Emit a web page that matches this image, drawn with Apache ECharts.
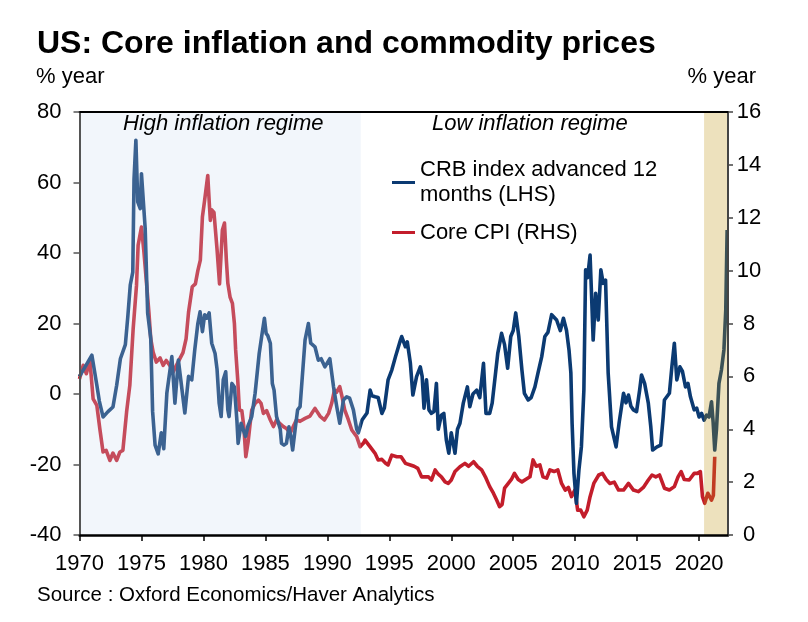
<!DOCTYPE html>
<html>
<head>
<meta charset="utf-8">
<script src="https://cdn.jsdelivr.net/npm/echarts@6/dist/echarts.min.js"></script>
<style>html,body{margin:0;padding:0;background:#fff}#c{width:808px;height:622px}</style>
</head>
<body>
<div id="c"></div>
<script>
// ---- data ----
const crbYears = [1970.0,1970.5,1971.0,1971.4,1971.6,1971.9,1972.3,1972.7,1973.0,1973.3,1973.7,1973.9,1974.1,1974.3,1974.4,1974.55,1974.7,1974.9,1975.0,1975.3,1975.5,1975.75,1975.9,1976.1,1976.35,1976.6,1976.8,1977.05,1977.45,1977.7,1977.98,1978.5,1978.8,1979.06,1979.3,1979.55,1979.73,1979.92,1980.1,1980.27,1980.46,1980.67,1980.94,1981.1,1981.27,1981.43,1981.6,1981.8,1981.97,1982.07,1982.3,1982.5,1982.7,1982.8,1983.04,1983.2,1983.4,1983.6,1983.9,1984.17,1984.3,1984.5,1984.7,1984.92,1985.06,1985.2,1985.4,1985.56,1985.7,1985.9,1986.2,1986.3,1986.5,1986.7,1986.9,1987.05,1987.2,1987.4,1987.6,1987.8,1988.2,1988.47,1988.66,1989.0,1989.27,1989.5,1989.8,1990.2,1990.5,1990.76,1991.0,1991.3,1991.56,1991.8,1992.1,1992.37,1992.5,1992.8,1993.2,1993.45,1993.6,1993.85,1994.1,1994.4,1994.6,1994.9,1995.2,1995.5,1995.9,1996.0,1996.3,1996.45,1996.7,1996.9,1997.2,1997.5,1997.65,1997.8,1998.0,1998.2,1998.4,1998.6,1998.8,1998.95,1999.2,1999.4,1999.6,1999.8,2000.0,2000.3,2000.5,2000.7,2000.97,2001.3,2001.5,2001.75,2002.05,2002.3,2002.6,2002.8,2003.1,2003.3,2003.75,2004.06,2004.3,2004.55,2004.8,2005.0,2005.2,2005.45,2005.7,2005.9,2006.2,2006.45,2006.75,2007.0,2007.3,2007.55,2007.8,2008.1,2008.5,2008.8,2009.05,2009.3,2009.5,2009.65,2009.75,2009.9,2010.1,2010.3,2010.5,2010.7,2010.84,2011.0,2011.2,2011.3,2011.45,2011.65,2011.86,2012.07,2012.26,2012.45,2012.66,2012.93,2013.3,2013.55,2013.9,2014.1,2014.3,2014.5,2014.7,2014.95,2015.2,2015.35,2015.6,2015.9,2016.1,2016.25,2016.6,2016.9,2017.1,2017.2,2017.6,2017.8,2018.0,2018.2,2018.45,2018.65,2018.9,2019.1,2019.3,2019.6,2019.8,2020.0,2020.2,2020.4,2020.6,2020.8,2021.0,2021.13,2021.26,2021.4,2021.6,2021.8,2022.0,2022.15,2022.26];
const crbValues = [5,8,11,2.5,-2,-6.5,-5,-3.7,2.5,10,14,22,31,34.6,61,72,54.5,52.6,62.5,47,23,15.7,-5,-14.5,-17,-11,-15.5,0.3,10.6,-2.6,9.6,-5.4,5,4,12.5,20,23.3,17.7,22.5,21.5,23,14.4,11.5,7,-2.6,-6.4,4,6.3,-4.5,-6.4,3,2,-7.4,-14,-8.3,-10,-12,-9,-6.4,0.2,0,11.5,16.3,21.5,17.2,16.5,14.4,3,1.1,-6.4,-10,-14,-14.5,-14,-9.3,-12,-15.9,-10,-4.5,-3.6,15.3,20,14.4,13.4,9.6,10,7.7,10,2,-3.6,-8.3,-1.7,-0.8,-1.2,-4.5,-10,-11,-7.4,-5.4,1.1,-0.5,-0.8,-1,-5.5,-4,4,6.8,10.6,15.3,16.3,13.4,14.8,8.7,-0.3,4.9,7.7,5,-4,4,-4.5,-5.5,-5,3,-10,-6,-5.5,-13,-16.8,-11,-16.8,-10,-8.3,-2.6,2,-3.6,0,1.1,-1,8.7,-5.5,-5.5,-2.6,11.5,17.2,14,7.3,16.3,18,23,16.3,6.8,0.2,-1.7,-1,2,6,10.6,16.3,17.5,22.5,21,18,21.5,18,12.5,6,-8.3,-22.5,-31,-21.6,-15,1.1,35.2,33,39.4,30,15.3,28.6,21,35.2,31.4,32.3,6,-9.3,-15,-8,0.2,-2.5,-0.3,-3.5,-4.5,-5,1.1,5.4,3,-2.6,-9.3,-15.9,-15,-14.5,-6.5,-1.7,0.2,7.7,14.4,4,7.7,6.5,2,3,-0.8,-4.5,-4,-6.5,-5.5,-7.4,-6,-6.5,-2.2,-8,-15.9,-10,3,6.8,12.5,23.8,46.5];

const cpiYears = [1970.0,1970.3,1970.55,1970.84,1971.1,1971.4,1971.64,1971.9,1972.15,1972.45,1972.7,1973.0,1973.26,1973.5,1973.8,1974.06,1974.33,1974.6,1974.73,1975.0,1975.2,1975.4,1975.6,1975.75,1975.94,1976.2,1976.5,1976.75,1977.0,1977.3,1977.55,1977.8,1978.1,1978.35,1978.6,1978.8,1979.1,1979.35,1979.55,1979.75,1979.92,1980.1,1980.35,1980.48,1980.56,1980.67,1980.85,1981.1,1981.3,1981.42,1981.53,1981.7,1981.85,1981.97,1982.15,1982.34,1982.5,1982.6,1982.77,1982.9,1983.1,1983.26,1983.42,1983.6,1983.77,1983.9,1984.17,1984.44,1984.65,1984.84,1985.1,1985.4,1985.65,1985.9,1986.2,1986.45,1986.7,1987.0,1987.25,1987.5,1987.8,1988.2,1988.6,1989.0,1989.4,1989.76,1990.1,1990.35,1990.57,1990.75,1991.0,1991.2,1991.4,1991.7,1991.97,1992.37,1992.64,1992.9,1993.04,1993.44,1993.85,1994.1,1994.4,1994.7,1994.9,1995.2,1995.6,1995.95,1996.3,1996.7,1997.0,1997.3,1997.6,1997.85,1998.15,1998.4,1998.7,1998.95,1999.2,1999.5,1999.76,2000.0,2000.3,2000.7,2001.1,2001.4,2001.8,2002.1,2002.45,2002.75,2003.1,2003.4,2003.66,2003.9,2004.1,2004.3,2004.6,2004.85,2005.1,2005.4,2005.7,2006.0,2006.35,2006.6,2006.85,2007.15,2007.4,2007.7,2007.96,2008.3,2008.6,2008.9,2009.2,2009.45,2009.7,2009.97,2010.2,2010.45,2010.7,2010.97,2011.2,2011.5,2011.9,2012.2,2012.5,2012.8,2013.15,2013.5,2013.9,2014.3,2014.7,2015.1,2015.5,2015.9,2016.2,2016.5,2016.8,2017.2,2017.6,2018.0,2018.3,2018.55,2018.8,2019.2,2019.6,2019.85,2020.1,2020.27,2020.45,2020.7,2021.0,2021.15,2021.26];
const cpiValues = [5.9,6.42,6.1,6.6,5.15,4.9,4.02,3.14,3.2,2.82,3.1,2.82,3.14,3.2,4.65,5.66,7.8,9.44,10.96,11.65,10.7,9.57,8.43,7.42,6.92,6.54,6.7,6.42,6.6,6.4,6.16,6.4,6.67,6.9,7.42,8.43,9.39,9.5,10.0,10.4,12.04,12.67,13.6,12.5,11.9,12.3,12.2,10.8,9.5,9.5,11.54,11.8,10.4,9.52,9.0,8.76,8.0,7.0,5.86,4.73,4.7,4.1,2.96,3.5,4.22,4.73,4.98,5.1,4.98,4.6,4.7,4.35,4.1,4.35,4.2,4.1,4.03,3.85,4.1,4.35,4.3,4.41,4.5,4.79,4.5,4.35,4.6,4.98,5.48,5.4,5.61,5.2,4.73,4.35,3.97,3.72,3.34,3.47,3.59,3.34,3.09,2.84,2.86,2.71,2.65,3.02,2.96,2.96,2.71,2.65,2.6,2.52,2.2,2.2,2.2,2.08,2.46,2.3,2.2,2.01,1.95,2.08,2.4,2.58,2.71,2.6,2.77,2.6,2.46,2.2,1.83,1.58,1.32,1.07,1.15,1.77,1.95,2.1,2.33,2.1,2.01,2.1,2.2,2.84,2.6,2.65,2.2,2.15,2.46,2.4,2.46,1.95,1.7,1.8,1.45,1.7,0.94,0.94,0.69,0.94,1.45,1.95,2.27,2.33,2.1,1.95,2.0,1.7,1.7,1.95,1.7,1.64,1.8,2.08,2.27,2.2,2.27,1.77,1.7,1.83,2.2,2.4,2.1,2.08,2.33,2.33,2.4,1.45,1.2,1.58,1.32,1.5,2.96];

const xTickLabels = [1970,1975,1980,1985,1990,1995,2000,2005,2010,2015,2020];
const regimeStart = [1970, 2020.4];
const regimeEnd = [1992.7, 2022.33];
const regimeNames = ['High inflation regime', 'Low inflation regime'];
const crbName = 'CRB index advanced 12\nmonths (LHS)';
const cpiName = 'Core CPI (RHS)';

// ---- chart ----
const FONT = '"Liberation Sans", Arial, sans-serif';
const regimeFills = ['rgba(205,219,238,0.25)', 'rgba(190,145,10,0.27)'];
const chart = echarts.init(document.getElementById('c'), null, {renderer: 'canvas'});

chart.setOption({
  backgroundColor: '#ffffff',
  animation: false,
  textStyle: {fontFamily: FONT},
  title: {
    text: 'US: Core inflation and commodity prices',
    left: 37, top: 28, padding: 0,
    textStyle: {fontSize: 32, fontWeight: 'bold', color: '#000', fontFamily: FONT}
  },
  grid: {left: 79.5, right: 80, top: 112, bottom: 87, containLabel: false},
  legend: {
    orient: 'vertical', left: 392, top: 145, padding: 0,
    icon: 'rect', itemWidth: 23, itemHeight: 3, itemGap: 0,
    textStyle: {fontSize: 22, lineHeight: 25, color: '#000', fontFamily: FONT},
    data: [
      {name: crbName, textStyle: {padding: [25, 0, 0, 0]}},
      {name: cpiName}
    ]
  },
  xAxis: [{
    type: 'value', min: 1970, max: 2022.33, interval: 5, z: 20,
    axisLine: {show: true, onZero: false, lineStyle: {color: '#000', width: 2.5}},
    axisTick: {show: true, length: 6, customValues: xTickLabels, lineStyle: {color: '#000', width: 1.5}},
    axisLabel: {customValues: xTickLabels, margin: 18, fontSize: 22, color: '#000', fontFamily: FONT,
                formatter: function (v) { return String(Math.round(v)); }},
    splitLine: {show: false}
  }, {
    type: 'value', position: 'top', min: 1970, max: 2022.33, z: 20,
    axisLine: {show: true, onZero: false, lineStyle: {color: '#000', width: 2}},
    axisTick: {show: false}, axisLabel: {show: false}, splitLine: {show: false}
  }],
  yAxis: [{
    type: 'value', min: -40, max: 80, interval: 20, position: 'left', z: 20,
    axisLine: {show: true, onZero: false, lineStyle: {color: '#555', width: 2}},
    axisTick: {show: true, length: 6, lineStyle: {color: '#555', width: 1.5}},
    axisLabel: {margin: 18, fontSize: 22, color: '#000', fontFamily: FONT},
    splitLine: {show: false}
  }, {
    type: 'value', min: 0, max: 16, interval: 2, position: 'right', z: 20,
    axisLine: {show: true, onZero: false, lineStyle: {color: '#444', width: 2}},
    axisTick: {show: true, length: 5, lineStyle: {color: '#444', width: 1.5}},
    axisLabel: {margin: 21, align: 'center', fontSize: 22, color: '#000', fontFamily: FONT},
    splitLine: {show: false}
  }],
  graphic: [
    {type: 'text', z: 100, left: 36, top: 66, style: {text: '% year', font: '22px ' + FONT, fill: '#000'}},
    {type: 'text', z: 100, right: 52, top: 66, style: {text: '% year', font: '22px ' + FONT, fill: '#000'}},
    {type: 'text', z: 100, left: 123, top: 113, style: {text: regimeNames[0], font: 'italic 22px ' + FONT, fill: '#000'}},
    {type: 'text', z: 100, left: 432, top: 113, style: {text: regimeNames[1], font: 'italic 22px ' + FONT, fill: '#000'}},
    {type: 'text', z: 100, left: 37, top: 585, style: {text: 'Source : Oxford Economics/Haver Analytics', font: '20.5px ' + FONT, fill: '#000'}}
  ],
  series: [{
    name: crbName, type: 'line', yAxisIndex: 0, z: 3,
    showSymbol: false, symbol: 'none', smooth: false,
    lineStyle: {color: '#0b3a72', width: 3.6, join: 'round'},
    itemStyle: {color: '#0b3a72'},
    data: crbYears.map((y, i) => [y, crbValues[i]])
  }, {
    name: cpiName, type: 'line', yAxisIndex: 1, z: 2,
    showSymbol: false, symbol: 'none', smooth: false,
    lineStyle: {color: '#c31d2b', width: 3.6, join: 'round'},
    itemStyle: {color: '#c31d2b'},
    data: cpiYears.map((y, i) => [y, cpiValues[i]])
  }, {
    name: 'regimes', type: 'custom', z: 10, silent: true, yAxisIndex: 0,
    encode: {x: [0, 1], y: [2, 3]},
    data: regimeStart.map((s, i) => [s, regimeEnd[i], -40, 80]),
    renderItem: function (params, api) {
      const p0 = api.coord([api.value(0), api.value(3)]);
      const p1 = api.coord([api.value(1), api.value(2)]);
      return {type: 'rect', shape: {x: p0[0], y: p0[1], width: p1[0] - p0[0], height: p1[1] - p0[1]},
              style: {fill: regimeFills[params.dataIndex]}};
    }
  }]
});
</script>
</body>
</html>
